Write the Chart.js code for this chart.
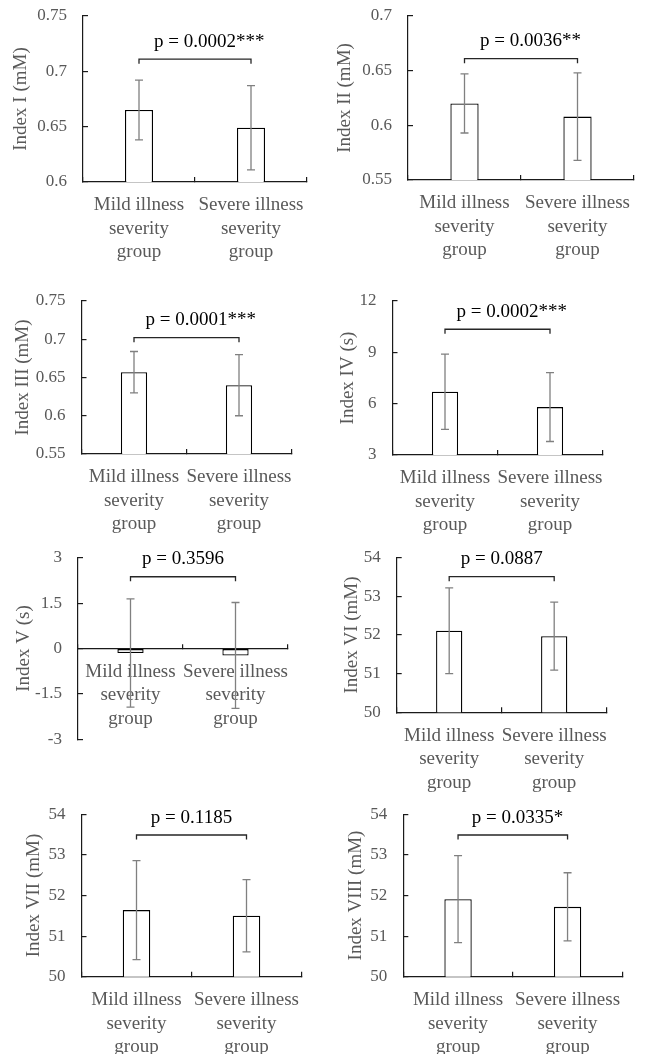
<!DOCTYPE html>
<html lang="en">
<head>
    <meta charset="UTF-8">
    <title>Index comparison by illness severity</title>
    <script src="https://cdn.jsdelivr.net/npm/chart.js"></script>
    <style>
        body { margin: 0; background: #fff; }
        #panels { position: relative; width: 648px; height: 1054px; }
        #panels canvas { position: absolute; }
    </style>
</head>
<body>
    <div id="panels"></div>

    <script>
        // chart data
        const categories = [['Mild illness', 'severity', 'group'], ['Severe illness', 'severity', 'group']];
        const indexTitles = ['Index I (mM)', 'Index II (mM)', 'Index III (mM)', 'Index IV (s)',
                             'Index V (s)', 'Index VI (mM)', 'Index VII (mM)', 'Index VIII (mM)'];
        const mildMean = [0.665, 0.620, 0.657, 6.70, -0.15, 52.11, 51.64, 51.91];
        const mildSD = [0.027, 0.027, 0.027, 2.20, 1.79, 1.11, 1.22, 1.07];
        const severeMean = [0.649, 0.608, 0.640, 5.80, -0.23, 51.97, 51.50, 51.72];
        const severeSD = [0.038, 0.040, 0.040, 2.01, 1.75, 0.88, 0.89, 0.84];
        const pValues = ['0.0002', '0.0036', '0.0001', '0.0002', '0.3596', '0.0887', '0.1185', '0.0335'];
        const pStars = ['***', '**', '***', '***', '', '', '', '*'];
        const bracketLevels = [0.711, 0.661, 0.702, 10.35, 2.37, 53.51, 53.49, 53.49];
        const yMin = [0.6, 0.55, 0.55, 3, -3, 50, 50, 50];
        const yMax = [0.75, 0.7, 0.75, 12, 3, 54, 54, 54];
        const yStep = [0.05, 0.05, 0.05, 3, 1.5, 1, 1, 1];

        // page layout: plot area [left, top, right, bottom] and y title centre, in page pixels
        const plotAreas = [
            [83, 16, 307, 182], [408, 16, 634, 180],
            [81.5, 301, 291.5, 454], [392.5, 301, 602.5, 455],
            [78, 557.7, 288, 739.3], [396.7, 557.7, 606.7, 712.3],
            [81.5, 814.3, 301.5, 976.7], [403.3, 814.3, 622.3, 976.7]
        ];
        const titleCentres = [21, 345, 23, 348, 24, 352, 34, 356];

        const FONT = 'Liberation Serif';
        const GREY_TEXT = '#595959';
        const AXIS = '#1a1a1a';
        Chart.defaults.font.family = FONT;

        const errorBarPlugin = {
            id: 'errorBars',
            afterDatasetsDraw(chart) {
                const ctx = chart.ctx;
                const x = chart.scales.x, y = chart.scales.y;
                const ds = chart.data.datasets[0];
                ctx.save();
                ctx.strokeStyle = '#808080';
                ctx.lineWidth = 1.3;
                ds.data.forEach((m, i) => {
                    const cx = x.getPixelForValue(i);
                    const hi = y.getPixelForValue(m + ds.errors[i]);
                    const lo = y.getPixelForValue(m - ds.errors[i]);
                    ctx.beginPath();
                    ctx.moveTo(cx, hi); ctx.lineTo(cx, lo);
                    ctx.moveTo(cx - 4, hi); ctx.lineTo(cx + 4, hi);
                    ctx.moveTo(cx - 4, lo); ctx.lineTo(cx + 4, lo);
                    ctx.stroke();
                });
                ctx.restore();
            }
        };

        const bracketPlugin = {
            id: 'pBracket',
            afterDraw(chart, args, opts) {
                const ctx = chart.ctx;
                const x = chart.scales.x, y = chart.scales.y;
                const x1 = x.getPixelForValue(0), x2 = x.getPixelForValue(1);
                const yb = y.getPixelForValue(opts.level);
                ctx.save();
                ctx.strokeStyle = '#262626';
                ctx.lineWidth = 1.3;
                ctx.beginPath();
                ctx.moveTo(x1, yb + 4.5);
                ctx.lineTo(x1, yb);
                ctx.lineTo(x2, yb);
                ctx.lineTo(x2, yb + 4.5);
                ctx.stroke();

                // "p = ..." is centred on the bracket, stars trail after it
                ctx.font = '19px "' + FONT + '"';
                ctx.fillStyle = '#000';
                ctx.textBaseline = 'alphabetic';
                ctx.textAlign = 'left';
                const main = 'p = ' + opts.p;
                const w = ctx.measureText(main).width;
                ctx.fillText(main + opts.stars, (x1 + x2) / 2 - w / 2, yb - 12.5);
                ctx.restore();
            }
        };

        function buildPanel(i) {
            const [aL, aT, aR, aB] = plotAreas[i];
            const col = i % 2;
            const cLeft = col * 324;
            const cTop = Math.floor(aT) - 20;
            const cHeight = Math.ceil(aB) - cTop + 90;
            const padTop = aT - cTop;
            const padRight = cLeft + 324 - aR;
            const axisWidth = aL - cLeft;
            const axisHeight = cTop + cHeight - aB;
            // an axis pinned at y = 0 takes no room in the layout, so pad instead
            const pinned = yMin[i] < 0;

            const canvas = document.createElement('canvas');
            canvas.width = 324;
            canvas.height = cHeight;
            canvas.style.left = cLeft + 'px';
            canvas.style.top = cTop + 'px';
            canvas.style.width = '324px';
            canvas.style.height = cHeight + 'px';
            document.getElementById('panels').appendChild(canvas);

            new Chart(canvas.getContext('2d'), {
                type: 'bar',
                data: {
                    labels: categories,
                    datasets: [{
                        data: [mildMean[i], severeMean[i]],
                        errors: [mildSD[i], severeSD[i]],
                        backgroundColor: '#ffffff',
                        borderColor: '#000000',
                        borderWidth: 1.3,
                        borderSkipped: false,
                        barPercentage: 0.25,
                        categoryPercentage: 1
                    }]
                },
                options: {
                    responsive: false,
                    animation: false,
                    devicePixelRatio: 1,
                    layout: { padding: { top: padTop, right: padRight, left: 0, bottom: pinned ? axisHeight : 0 } },
                    plugins: {
                        legend: { display: false },
                        tooltip: { enabled: false },
                        pBracket: { level: bracketLevels[i], p: pValues[i], stars: pStars[i] }
                    },
                    scales: {
                        x: {
                            position: pinned ? { y: 0 } : 'bottom',
                            ticks: {
                                color: GREY_TEXT,
                                font: { size: 19, lineHeight: '23.5px' },
                                padding: 16.6,
                                maxRotation: 0,
                                autoSkip: false
                            },
                            grid: { drawOnChartArea: false, tickLength: -5, color: AXIS, lineWidth: 1.2 },
                            border: { color: AXIS, width: 1.2 },
                            afterFit: s => {
                                s.height = pinned ? 0 : axisHeight;
                                s.paddingLeft = 0;
                                s.paddingRight = 0;
                            }
                        },
                        y: {
                            min: yMin[i],
                            max: yMax[i],
                            ticks: {
                                stepSize: yStep[i],
                                color: GREY_TEXT,
                                font: { size: 17 },
                                padding: 21,
                                callback: v => String(Math.round(v * 1000) / 1000)
                            },
                            grid: { drawOnChartArea: false, tickLength: -5, color: AXIS, lineWidth: 1.2 },
                            border: { color: AXIS, width: 1.2 },
                            title: {
                                display: true,
                                text: indexTitles[i],
                                color: GREY_TEXT,
                                font: { size: 19 },
                                padding: { top: titleCentres[i] - cLeft - 11.4, bottom: 0 }
                            },
                            afterFit: s => {
                                s.width = axisWidth;
                                s.paddingTop = 0;
                                s.paddingBottom = 0;
                            }
                        }
                    }
                },
                plugins: [errorBarPlugin, bracketPlugin]
            });
        }

        for (let i = 0; i < indexTitles.length; i++) {
            buildPanel(i);
        }
    </script>
</body>
</html>
